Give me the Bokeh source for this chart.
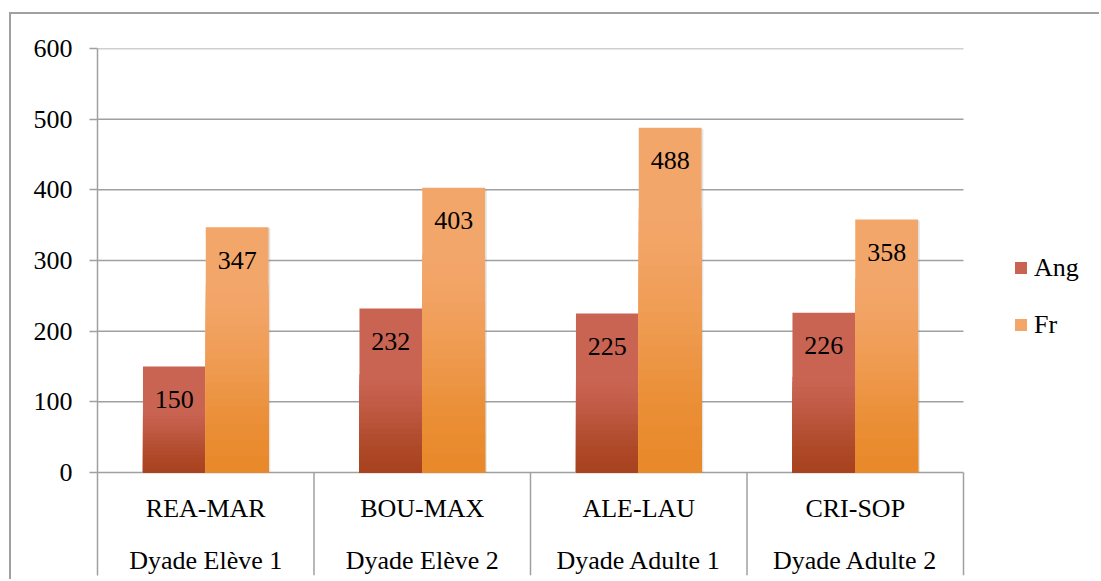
import numpy as np
from bokeh.plotting import figure
from bokeh.models import Range1d, FixedTicker, ColumnDataSource, Legend, LegendItem
from bokeh.core.properties import value
from bokeh.embed import file_html
from bokeh.resources import INLINE

# ---- data ----
pairs = ["REA-MAR", "BOU-MAX", "ALE-LAU", "CRI-SOP"]
groups = ["Dyade Elève 1", "Dyade Elève 2", "Dyade Adulte 1", "Dyade Adulte 2"]
series_names = ["Ang", "Fr"]
ang = [150, 232, 225, 226]
fr = [347, 403, 488, 358]
y_ticks = [0, 100, 200, 300, 400, 500, 600]

# ---- style ----
FONT = "Liberation Serif"
FSIZE = "26px"
GRID = "#A0A0A0"
Y0, Y1 = -145.75, 600
NCAT = len(pairs)
X1 = NCAT * 1004 / 866  # frame runs to the canvas edge; categories occupy [0, NCAT]
BAR_W = 0.29
styles = {
    "Ang": dict(top=(201, 100, 83), bottom=(168, 66, 30), start=0.40, off=-0.145),
    "Fr": dict(top=(243, 166, 106), bottom=(232, 137, 42), start=0.25, off=0.145),
}

p = figure(width=1090, height=567, output_backend="svg", toolbar_location=None,
           x_range=Range1d(0, X1), y_range=Range1d(Y0, Y1),
           x_axis_location=None, min_border_left=86, min_border_top=34,
           min_border_bottom=6, min_border_right=0)
p.margin = (12, 0, 0, 9)
p.styles = {"border-left": "2px solid #A0A0A0", "border-top": "2px solid #A0A0A0"}
p.outline_line_color = None
p.background_fill_color = "white"
p.border_fill_color = "white"
p.xgrid.visible = False
p.ygrid.visible = False

ax = p.yaxis[0]
ax.ticker = FixedTicker(ticks=y_ticks)
ax.axis_line_color = GRID
ax.axis_line_width = 1.5
ax.major_tick_line_color = GRID
ax.major_tick_line_width = 1.5
ax.major_tick_out = 8
ax.major_tick_in = 0
ax.minor_tick_line_color = None
ax.major_label_text_font = FONT
ax.major_label_text_font_size = FSIZE
ax.major_label_text_color = "black"
ax.major_label_standoff = 17

# horizontal gridlines over the category area only
p.segment(x0=[0] * len(y_ticks), y0=y_ticks, x1=[NCAT] * len(y_ticks), y1=y_ticks,
          line_color=GRID, line_width=1.5)

centers = np.arange(NCAT) + 0.5


def mix(c0, c1, u):
    return "#%02x%02x%02x" % tuple(int(round(a + (b - a) * u)) for a, b in zip(c0, c1))


N = 30
base_renderers = {}
for name, vals in zip(series_names, [ang, fr]):
    st = styles[name]
    xs = centers + st["off"]
    # soft shadow
    p.vbar(x=xs + 0.008, top=np.array(vals) - 1.5, bottom=0, width=BAR_W,
           fill_color="#7f7f7f", fill_alpha=0.22, line_color=None)
    base = p.vbar(x=xs, top=vals, bottom=0, width=BAR_W,
                  fill_color=mix(st["top"], st["top"], 0), line_color=None)
    base_renderers[name] = base
    sx, stop, scol = [], [], []
    for k in range(1, N):
        t = (k + 0.5) / N
        if t < st["start"]:
            continue
        u = (t - st["start"]) / (1 - st["start"])
        u = u * u * (3 - 2 * u) * 0.6 + u * 0.4
        c = mix(st["top"], st["bottom"], u)
        for x, v in zip(xs, vals):
            sx.append(x)
            stop.append(v * (1 - k / N))
            scol.append(c)
    src = ColumnDataSource(dict(x=sx, top=stop, color=scol))
    p.vbar(x="x", top="top", bottom=0, width=BAR_W, fill_color="color",
           line_color=None, source=src)
    p.text(x=xs, y=vals, text=[str(v) for v in vals], text_align="center",
           text_baseline="middle", y_offset=33, text_font=value(FONT),
           text_font_size=FSIZE, text_color="black")

# category axis (two levels)
p.text(x=centers, y=[-50.9] * NCAT, text=pairs, text_align="center",
       text_baseline="middle", text_font=value(FONT), text_font_size=FSIZE,
       text_color="black")
p.text(x=centers, y=[-124.5] * NCAT, text=groups, text_align="center",
       text_baseline="middle", text_font=value(FONT), text_font_size=FSIZE,
       text_color="black")
seps = np.arange(1, NCAT + 1)
p.segment(x0=seps, y0=[0] * len(seps), x1=seps, y1=[Y0] * len(seps),
          line_color=GRID, line_width=1.5)

legend = Legend(items=[LegendItem(label=n, renderers=[base_renderers[n]]) for n in series_names],
                location=(916, 235.5), orientation="vertical", padding=0, margin=0,
                spacing=27, glyph_width=15, glyph_height=15, label_height=26,
                label_standoff=6, label_text_font=FONT, label_text_font_size=FSIZE,
                label_text_color="black",
                border_line_color=None, background_fill_alpha=0)
p.add_layout(legend)

open("out.html", "w").write(file_html(p, INLINE))
